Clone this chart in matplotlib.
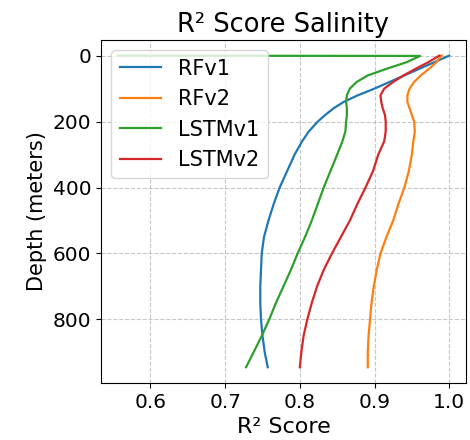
import numpy as np
import matplotlib
matplotlib.use('Agg')
from matplotlib import pyplot as plt

# Depth levels (meters) shared by all models
depth = [0, 1, 20, 40, 60, 80, 100, 120, 140, 160, 180, 200, 230, 260, 300,
         350, 400, 450, 500, 550, 600, 650, 700, 750, 800, 850, 900, 945]

# R2 scores per depth
rfv1 = [1.000, 0.999, 0.980, 0.960, 0.940, 0.920, 0.900, 0.878, 0.859, 0.845,
        0.834, 0.824, 0.812, 0.803, 0.793, 0.783, 0.773, 0.765, 0.758, 0.752,
        0.749, 0.748, 0.747, 0.747, 0.748, 0.750, 0.753, 0.757]
rfv2 = [0.990, 0.989, 0.983, 0.973, 0.962, 0.953, 0.947, 0.944, 0.944, 0.947,
        0.950, 0.953, 0.954, 0.952, 0.950, 0.946, 0.940, 0.932, 0.925, 0.916,
        0.908, 0.903, 0.899, 0.896, 0.894, 0.892, 0.891, 0.891]
lstmv1 = [0.556, 0.961, 0.943, 0.916, 0.891, 0.876, 0.867, 0.863, 0.862, 0.863,
          0.863, 0.862, 0.861, 0.857, 0.850, 0.841, 0.832, 0.824, 0.816, 0.807,
          0.797, 0.788, 0.778, 0.768, 0.759, 0.749, 0.738, 0.728]
lstmv2 = [0.987, 0.986, 0.972, 0.955, 0.939, 0.925, 0.913, 0.908, 0.909, 0.911,
          0.914, 0.915, 0.915, 0.913, 0.905, 0.898, 0.888, 0.877, 0.867, 0.855,
          0.843, 0.832, 0.823, 0.816, 0.810, 0.805, 0.802, 0.800]

models = {'RFv1': rfv1, 'RFv2': rfv2, 'LSTMv1': lstmv1, 'LSTMv2': lstmv2}

fig = plt.figure(figsize=(4.7, 4.4), dpi=100)
ax = fig.add_axes([0.215, 0.130, 0.776, 0.779])

for name, scores in models.items():
    ax.plot(scores, depth, label=name, linewidth=1.6)

ax.invert_yaxis()
ax.set_xticks([0.6, 0.7, 0.8, 0.9, 1.0])
ax.set_yticks([0, 200, 400, 600, 800])
ax.tick_params(labelsize=14.5)
ax.set_xlabel('R² Score', fontsize=16)
ax.set_ylabel('Depth (meters)', fontsize=15)
ax.set_title('R² Score Salinity', fontsize=18.5)
ax.grid(True, linestyle='--', alpha=0.7)
ax.legend(loc='upper left', fontsize=15)

plt.savefig('out.png', dpi=100)
